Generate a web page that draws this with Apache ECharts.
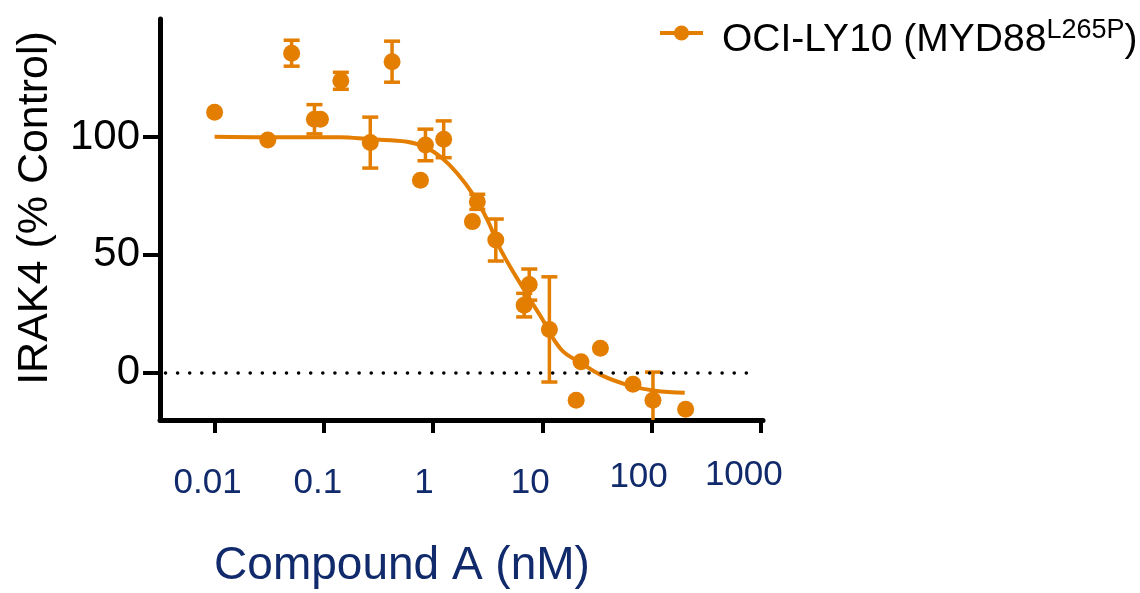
<!DOCTYPE html>
<html>
<head>
<meta charset="utf-8">
<script src="https://cdn.jsdelivr.net/npm/echarts@6/dist/echarts.min.js"></script>
<style>
html, body { margin: 0; padding: 0; background: #fff; }
#chart { width: 1140px; height: 593px; }
</style>
</head>
<body>
<div id="chart"></div>
<script>
// measured points (concentration in nM, % control, +/- error)
var pointConc = [0.01, 0.0307, 0.0507, 0.082, 0.093, 0.143, 0.266, 0.421, 0.766, 0.851, 1.25,
                 2.29, 2.54, 3.75, 6.82, 7.59, 11.6, 20.4, 22.6, 34.0, 67.6, 103, 205];
var pointVal  = [110.5, 98.7, 135.5, 107.5, 107.5, 123.8, 97.6, 131.9, 81.6, 96.6, 99.0,
                 64.1, 72.5, 56.3, 28.7, 37.4, 18.4, -11.6, 4.7, 10.4, -4.8, -11.6, -15.4];
var pointErr  = [0, 0, 5.5, 6.2, 0, 3.6, 10.8, 8.7, 0, 6.7, 7.8,
                 0, 3.2, 8.9, 5.0, 6.6, 22.3, 0, 0, 0, 0, 11.9, 0];

// fitted curve
var curveConc = [0.01, 0.0307, 0.141, 0.266, 0.578, 0.851, 1.17, 1.66, 2.37, 3.14, 4.16,
                 6.82, 9.70, 14.8, 22.6, 34.6, 60.8, 107, 201];
var curveVal  = [100.1, 99.9, 99.9, 99.0, 98.0, 95.6, 91.6, 84.6, 75.0, 64.8, 52.1,
                 35.1, 23.8, 10.0, 4.2, -1.0, -5.2, -7.6, -8.5];

var xTickConc = [0.01, 0.1, 1, 10, 100, 1000];
var xTickLabels = ['0.01', '0.1', '1', '10', '100', '1000'];
var yTicks = [0, 50, 100];

var seriesName = 'OCI-LY10 (MYD88L265P)';
var orange = '#e37e00';
var navy = '#112a6b';
var font = 'Liberation Sans, Arial, sans-serif';

function lg(c) { return Math.round(Math.log10(c) * 10000) / 10000; }
var xTickLog = xTickConc.map(lg);

// small nudges of the x labels (left, up) as in the original export
var labelNudge = [[7, 0], [6, 0], [9, 0], [12, 0], [13, 6], [17, 8]];
var labelRich = {};
labelNudge.forEach(function (n, i) {
    labelRich['l' + i] = {
        fontSize: 35, color: navy, fontFamily: font,
        padding: [0, 2 * n[0], 2 * n[1], 0]
    };
});

var points = pointConc.map(function (c, i) { return [lg(c), pointVal[i]]; });
var bars = [];
pointConc.forEach(function (c, i) {
    if (pointErr[i] > 0) bars.push([lg(c), pointVal[i], pointErr[i]]);
});
var curve = curveConc.map(function (c, i) { return [lg(c), curveVal[i]]; });

var myChart = echarts.init(document.getElementById('chart'));
var option = {
    animation: false,
    grid: { left: 160, right: 377, top: 19, bottom: 173 },
    legend: {
        left: 658, top: 17, padding: 0,
        itemWidth: 43, itemHeight: 19,
        data: [seriesName],
        lineStyle: { width: 4 },
        formatter: function () { return '{a|OCI-LY10 (MYD88}{s|L265P}{a|)}'; },
        textStyle: {
            padding: [14, 0, 0, 14],
            rich: {
                a: { fontSize: 39, lineHeight: 46, color: '#000', fontFamily: font },
                s: { fontSize: 27, color: '#000', fontFamily: font, verticalAlign: 'top' }
            }
        }
    },
    xAxis: {
        type: 'value', min: -2.5, max: 3.02,
        splitLine: { show: false },
        axisLine: { onZero: false, lineStyle: { color: '#000', width: 5 } },
        axisTick: { customValues: xTickLog, length: 13, lineStyle: { color: '#000', width: 4 } },
        axisLabel: {
            customValues: xTickLog, margin: 63, verticalAlign: 'middle',
            fontSize: 35, color: navy, fontFamily: font,
            formatter: function (v) {
                for (var i = 0; i < xTickLog.length; i++) {
                    if (Math.abs(xTickLog[i] - v) < 1e-6) return '{l' + i + '|' + xTickLabels[i] + '}';
                }
                return '';
            },
            rich: labelRich
        }
    },
    yAxis: {
        type: 'value', min: -20, max: 150,
        splitLine: { show: false },
        axisLine: { show: true, onZero: false, lineStyle: { color: '#000', width: 5 } },
        axisTick: { show: true, customValues: yTicks, length: 17, lineStyle: { color: '#000', width: 4 } },
        axisLabel: { customValues: yTicks, margin: 20, fontSize: 42, color: '#000', fontFamily: font }
    },
    graphic: [
        {
            type: 'text', x: 35, y: 208, rotation: Math.PI / 2,
            style: { text: 'IRAK4 (% Control)', font: '43px ' + font, fill: '#000', align: 'center', verticalAlign: 'middle' }
        },
        {
            type: 'text', x: 402, y: 566,
            style: { text: 'Compound A (nM)', font: '46px ' + font, fill: navy, align: 'center', verticalAlign: 'middle' }
        }
    ],
    series: [
        {
            name: seriesName,
            type: 'line',
            data: curve,
            smooth: 0.4,
            symbol: 'circle',
            symbolSize: 13,
            showSymbol: false,
            itemStyle: { color: orange },
            lineStyle: { color: orange, width: 4 },
            z: 2
        },
        {
            type: 'custom',
            data: bars,
            clip: true,
            encode: { x: 0, y: 1 },
            renderItem: function (params, api) {
                var x = api.value(0), v = api.value(1), e = api.value(2);
                var top = api.coord([x, v + e]);
                var bot = api.coord([x, v - e]);
                var hw = 8;
                var st = { stroke: orange, lineWidth: 3.5 };
                return {
                    type: 'group',
                    children: [
                        { type: 'line', shape: { x1: top[0], y1: top[1], x2: bot[0], y2: bot[1] }, style: st },
                        { type: 'line', shape: { x1: top[0] - hw, y1: top[1], x2: top[0] + hw, y2: top[1] }, style: st },
                        { type: 'line', shape: { x1: bot[0] - hw, y1: bot[1], x2: bot[0] + hw, y2: bot[1] }, style: st }
                    ]
                };
            },
            z: 3
        },
        {
            type: 'scatter',
            data: points,
            symbolSize: 17,
            itemStyle: { color: orange, opacity: 1 },
            z: 4,
            markLine: {
                silent: true,
                symbol: ['none', 'none'],
                label: { show: false },
                lineStyle: { color: '#000', width: 3.5, type: [0.1, 12], cap: 'round', opacity: 1 },
                data: [[{ coord: [-2.45, 0] }, { coord: [2.88, 0] }]]
            }
        }
    ]
};
myChart.setOption(option);
</script>
</body>
</html>
